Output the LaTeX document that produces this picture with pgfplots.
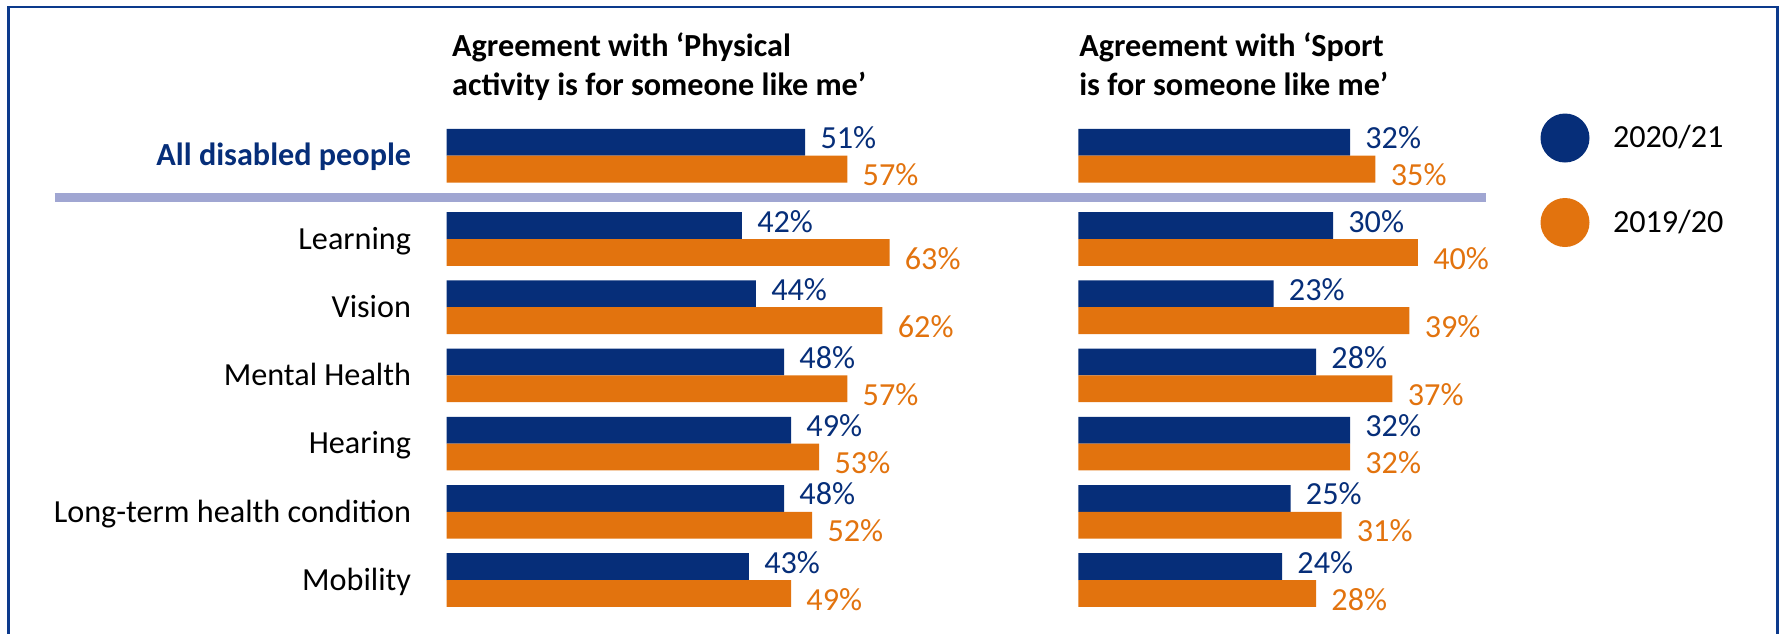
\documentclass[border=0pt]{standalone}
\usepackage{fontspec}
\setmainfont{Carlito}
\usepackage{pgfplots}
\pgfplotsset{compat=1.18}
\usepackage{pgfplotstable}
\definecolor{cblue}{RGB}{6,46,121}
\definecolor{corange}{RGB}{226,115,14}
\definecolor{csep}{RGB}{160,166,210}
\definecolor{cframe}{RGB}{12,58,140}
\newcommand\fs{\fontsize{16.1}{19}\selectfont}

% y positions are in pixels from the top of the picture
\pgfplotstableread{
ypos phys sport
142.3 51 32
225.6 42 30
293.8 44 23
362.0 48 28
430.2 49 32
498.4 48 25
566.6 43 24
}\tblue
\pgfplotstableread{
ypos phys sport
169.1 57 35
252.4 63 40
320.6 62 39
388.8 57 37
457.0 53 32
525.2 52 31
593.4 49 28
}\torange

\pgfplotsset{
  panel/.style={
    clip=false, y dir=reverse, y=0.5pt, ymin=0, ymax=633,
    axis line style={draw=none}, tick style={draw=none},
    xtick=\empty, xmin=0, anchor=north west,
    xbar, bar width=13.4pt,
    point meta=x,
    nodes near coords={\pgfmathprintnumber{\pgfplotspointmeta}\%},
    /pgf/number format/assume math mode=true,
  },
  bluebar/.style={fill=cblue, draw=none, bar shift=0pt,
    every node near coord/.append style={anchor=base west, inner sep=0pt,
      xshift=7.5pt, yshift=-3.2pt, text=cblue, font=\fs}},
  orangebar/.style={fill=corange, draw=none, bar shift=0pt,
    every node near coord/.append style={anchor=base west, inner sep=0pt,
      xshift=7.5pt, yshift=-8.3pt, text=corange, font=\fs}},
}

\begin{document}
\begin{tikzpicture}
% frame (open at the bottom)
\draw[cframe, line width=1.35pt] (4.35pt,-330pt) -- (4.35pt,-3.5pt) -- (888.65pt,-3.5pt) -- (888.65pt,-330pt);
% separator
\draw[csep, line width=4.2pt] (27.25pt,-98.75pt) -- (743pt,-98.75pt);

\begin{axis}[panel, at={(223.3pt,0pt)}, x=3.515pt, xmax=70,
  ytick={155.7,239,307.2,375.4,443.6,511.8,580},
  yticklabels={{\bfseries\color{cblue}All disabled people},Learning,Vision,Mental Health,Hearing,Long-term health condition,Mobility},
  yticklabel style={anchor=base east, inner sep=0pt, xshift=-13.3pt, yshift=-5.1pt, font=\fs, text=black},
]
\addplot[bluebar] table[x=phys, y=ypos] {\tblue};
\addplot[orangebar] table[x=phys, y=ypos] {\torange};
\node[anchor=base west, inner sep=0pt, font=\fs\bfseries] at (axis cs:0.74,56.7) {Agreement with ‘Physical};
\node[anchor=base west, inner sep=0pt, font=\fs\bfseries] at (axis cs:0.74,95) {activity is for someone like me’};
\end{axis}

\begin{axis}[panel, at={(539.15pt,0pt)}, x=4.245pt, xmax=50, ytick=\empty,
  legend image code/.code={\fill[#1, draw=none] (12.25pt,0pt) circle[radius=12.25pt];},
  legend cell align=left,
  legend style={at={(axis cs:54.44,113.5)}, anchor=north west, draw=none, fill=none,
    inner sep=0pt, outer sep=0pt, row sep=17.75pt,
    nodes={inner sep=0pt, font=\fs},
    /tikz/every odd column/.append style={column sep=11.75pt}},
]
\addplot[bluebar] table[x=sport, y=ypos] {\tblue};
\addlegendentry{2020/21}
\addplot[orangebar] table[x=sport, y=ypos] {\torange};
\addlegendentry{2019/20}
\node[anchor=base west, inner sep=0pt, font=\fs\bfseries] at (axis cs:0.07,56.7) {Agreement with ‘Sport};
\node[anchor=base west, inner sep=0pt, font=\fs\bfseries] at (axis cs:0.07,95) {is for someone like me’};
\end{axis}

\pgfresetboundingbox
\path[use as bounding box] (0pt,0pt) rectangle (890.5pt,-316.5pt);
\end{tikzpicture}
\end{document}
